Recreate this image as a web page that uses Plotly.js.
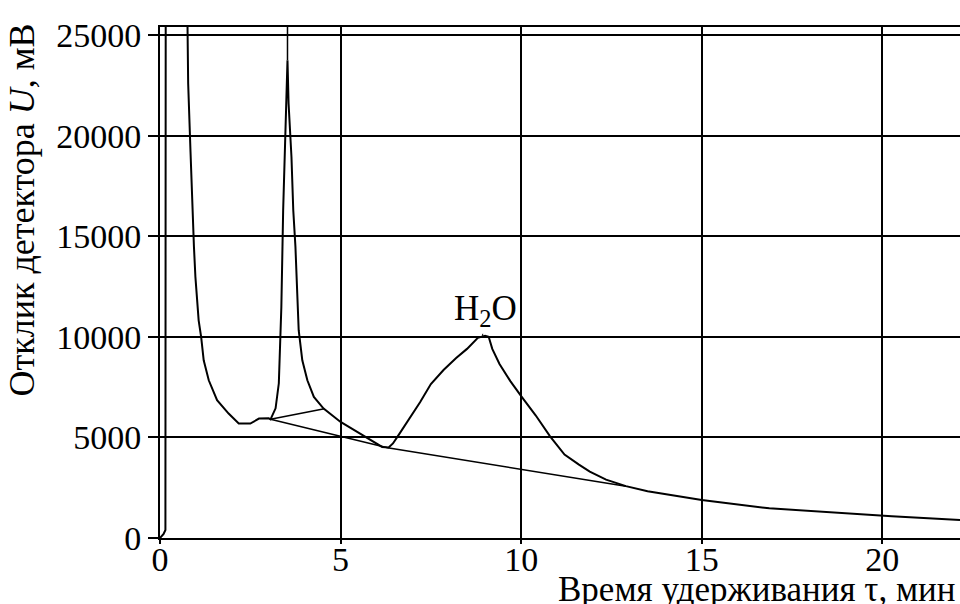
<!DOCTYPE html>
<html>
<head>
<meta charset="utf-8">
<script src="https://cdn.plot.ly/plotly-3.0.1.min.js"></script>
<style>
  html, body { margin: 0; padding: 0; background: #fff; }
  #chart { width: 960px; height: 604px; }
</style>
</head>
<body>
<div id="chart"></div>
<script>
// Chromatogram: detector response vs retention time
// Solvent front goes far off scale; its top is an estimate.
const timeMin = [
  0, 0.10, 0.15, 0.16, 0.72, 0.75, 0.78, 0.845, 0.89, 0.94, 0.98, 1.07, 1.14,
  1.21, 1.35, 1.58, 1.90, 2.18, 2.50, 2.74, 3.01, 3.06, 3.20, 3.29, 3.36, 3.41,
  3.49, 3.53, 3.56, 3.64, 3.69, 3.75, 3.80, 3.84, 3.94, 4.08, 4.26, 4.53, 4.80,
  5.00, 5.46, 5.83, 6.15, 6.33, 6.45, 6.60, 6.90, 7.20, 7.50, 7.85, 8.20, 8.50,
  8.80, 9.00, 9.10, 9.20, 9.40, 9.70, 10.00, 10.40, 10.80, 11.20, 11.60, 11.90,
  12.35, 12.90, 13.50, 15.00, 16.87, 19.13, 20.26, 22.15
];
const responseMv = [
  0, 200, 400, 32000, 32000, 25400, 22590, 19190, 16640, 14470, 12980, 10820, 9990,
  8835, 7840, 6850, 6185, 5690, 5690, 5935, 5950, 5900, 6445, 7690, 11480, 16300,
  21260, 23750, 21600, 18940, 16290, 14470, 12150, 10330, 8835, 7840, 7010, 6435, 6050,
  5770, 5270, 4860, 4525, 4495, 4700, 5100, 5900, 6750, 7650, 8350, 8950, 9400,
  9950, 10050, 10000, 9400, 8650, 7800, 7050, 6100, 5050, 4150, 3650, 3300,
  2900, 2580, 2320, 1890, 1476, 1200, 1080, 900
];

// Peak marker above the first peak apex
const markT = [3.53, 3.53];
const markU = [23750, 26000];

// Integration baselines (tangent skim, then valley-to-valley drops)
const baseT = [3.06, 4.55, null, 3.06, 6.30, 12.90];
const baseU = [5900, 6430, null, 5900, 4490, 2570];

const xTicks = [0, 5, 10, 15, 20];
const yTicks = [0, 5000, 10000, 15000, 20000, 25000];

const serif = 'Liberation Serif, Times New Roman, serif';

const traces = [
  { x: timeMin, y: responseMv, mode: 'lines', line: { color: '#000', width: 2 }, hoverinfo: 'x+y' },
  { x: markT, y: markU, mode: 'lines', line: { color: '#000', width: 1.5 }, hoverinfo: 'skip' },
  { x: baseT, y: baseU, mode: 'lines', line: { color: '#000', width: 1.5 }, connectgaps: false, hoverinfo: 'skip' }
];

const layout = {
  width: 960, height: 604,
  margin: { l: 160, r: 0, t: 27, b: 66 },
  paper_bgcolor: '#fff', plot_bgcolor: '#fff',
  showlegend: false,
  font: { family: serif, color: '#000', size: 34 },
  xaxis: {
    range: [0, 22.15], tickvals: xTicks, ticktext: xTicks.map(String),
    showgrid: true, gridcolor: '#000', gridwidth: 2,
    showline: true, linecolor: '#000', linewidth: 2, mirror: true,
    ticks: 'outside', ticklen: 4, tickwidth: 2, tickcolor: '#000',
    ticklabelstandoff: -14,
    zeroline: false, tickfont: { family: serif, size: 34, color: '#000' }
  },
  yaxis: {
    range: [0, 25400], tickvals: yTicks, ticktext: yTicks.map(String),
    showgrid: true, gridcolor: '#000', gridwidth: 2,
    showline: true, linecolor: '#000', linewidth: 2, mirror: false,
    ticks: 'outside', ticklen: 10, tickwidth: 2, tickcolor: '#000',
    zeroline: false, tickfont: { family: serif, size: 34, color: '#000' }
  },
  annotations: [
    {
      text: 'Отклик детектора <i>U</i>, мВ', textangle: -90,
      xref: 'paper', yref: 'paper', x: -0.1725, y: 0.641,
      xanchor: 'center', yanchor: 'middle', showarrow: false,
      font: { family: serif, size: 36, color: '#000' }
    },
    {
      text: 'Время удерживания τ, мин',
      xref: 'paper', yref: 'paper', x: 0.9975, y: -0.1,
      xanchor: 'right', yanchor: 'middle', showarrow: false,
      font: { family: serif, size: 35, color: '#000' }
    },
    {
      text: 'H<sub>2</sub>O',
      xref: 'x', yref: 'y', x: 8.93, y: 10050,
      showarrow: true, arrowhead: 0, arrowwidth: 1, arrowcolor: '#000',
      ax: 3, ay: -25, standoff: 0,
      font: { family: serif, size: 35, color: '#000' }
    }
  ]
};

Plotly.newPlot('chart', traces, layout, { staticPlot: true, displayModeBar: false });
</script>
</body>
</html>
